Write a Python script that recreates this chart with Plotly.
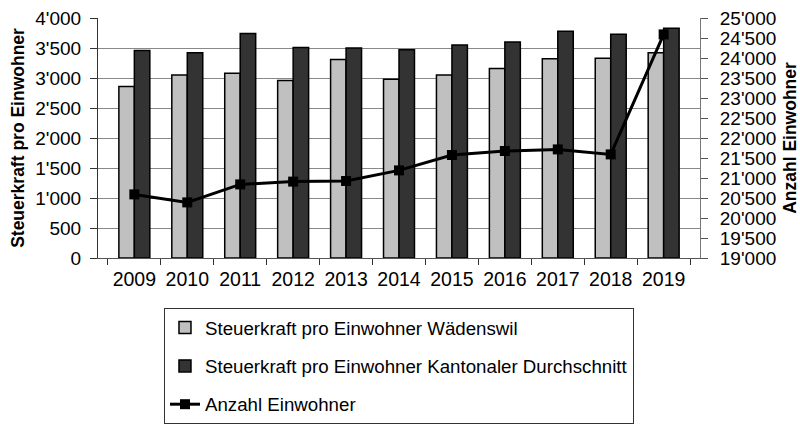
import plotly.graph_objects as go

years = ["2009", "2010", "2011", "2012", "2013", "2014", "2015", "2016", "2017", "2018", "2019"]
steuerkraft_waedenswil = [2860, 3050, 3080, 2960, 3310, 2980, 3050, 3160, 3320, 3330, 3420]
steuerkraft_kanton = [3460, 3420, 3740, 3510, 3500, 3470, 3550, 3600, 3780, 3730, 3830]
einwohner = [20590, 20390, 20840, 20910, 20925, 21190, 21575, 21675, 21715, 21590, 24590]

name_w = "Steuerkraft pro Einwohner Wädenswil"
name_k = "Steuerkraft pro Einwohner Kantonaler Durchschnitt"
name_e = "Anzahl Einwohner"

FONT = "Liberation Sans, Arial, sans-serif"

fig = go.Figure()
fig.add_trace(go.Bar(x=years, y=steuerkraft_waedenswil, name=name_w,
                     marker=dict(color="#C0C0C0", line=dict(color="black", width=1.5)),
                     legendgroup="a"))
fig.add_trace(go.Bar(x=years, y=steuerkraft_kanton, name=name_k,
                     marker=dict(color="#333333", line=dict(color="black", width=1.5)),
                     legendgroup="b"))
fig.add_trace(go.Scatter(x=years, y=einwohner, name=name_e, yaxis="y2",
                         mode="lines+markers",
                         line=dict(color="black", width=3),
                         marker=dict(symbol="square", size=10, color="black"),
                         legendgroup="c"))

fig.update_layout(
    width=800, height=424,
    margin=dict(l=98, r=100, t=18, b=166, autoexpand=False),
    paper_bgcolor="white", plot_bgcolor="white",
    font=dict(family=FONT, size=19, color="black"),
    separators=".'",
    barmode="group", bargap=0.415, bargroupgap=0,
    showlegend=True,
    legend=dict(x=0.1096, y=-0.208, xanchor="left", yanchor="top",
                bordercolor="#333333", borderwidth=1,
                font=dict(size=18.7), traceorder="grouped", tracegroupgap=11,
                itemwidth=30),
    xaxis=dict(type="category", tickson="boundaries", ticks="outside", ticklen=6,
               tickcolor="#333", showline=True, linecolor="#555", linewidth=1,
               showgrid=False, tickfont=dict(size=19.5), automargin=False,
               ticklabelstandoff=4),
    yaxis=dict(range=[0, 4000], dtick=500, tickformat=",d", ticks="outside", ticklen=7,
               tickcolor="#333", showline=True, linecolor="#333", linewidth=1,
               showgrid=True, gridcolor="#888888", gridwidth=1, zeroline=False,
               tickfont=dict(size=19), automargin=False, ticklabelstandoff=5,
               ticklabeloverflow="allow",
               title=dict(text="<b>Steuerkraft pro Einwohner</b>", font=dict(size=17.5), standoff=6)),
    yaxis2=dict(range=[19000, 25000], dtick=500, tickformat=",d", overlaying="y", side="right",
                ticks="outside", ticklen=7, tickcolor="#555", showline=True, linecolor="#777",
                linewidth=1, showgrid=False, zeroline=False, tickfont=dict(size=19),
                automargin=False, ticklabelstandoff=8, ticklabeloverflow="allow",
                title=dict(text="<b>Anzahl Einwohner</b>", font=dict(size=17.5), standoff=10)),
)

fig.write_html("out.html", config={"displayModeBar": False},
               post_script="document.body.style.margin='0';")
